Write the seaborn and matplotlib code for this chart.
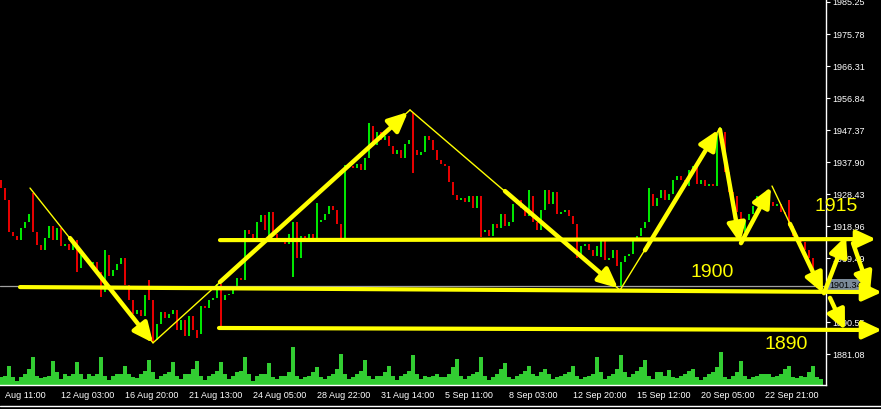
import numpy as np
import pandas as pd
import seaborn as sns
import matplotlib.pyplot as plt
from matplotlib.lines import Line2D
import matplotlib.transforms as mtransforms

# close of every bar (bar index 0..205)
closes = [
    1930.2, 1926.7, 1917.2, 1916.0, 1914.8, 1918.4, 1920.2, 1922.5, 1917.2, 1913.3,
    1911.9, 1915.4, 1919.0, 1914.8, 1918.4, 1913.1, 1913.6, 1911.9, 1914.8, 1906.5,
    1910.4, 1908.9, 1907.7, 1908.3, 1905.4, 1899.4, 1910.4, 1904.2, 1906.0, 1907.7,
    1909.5, 1901.5, 1897.1, 1892.9, 1894.1, 1892.3, 1898.6, 1897.1, 1885.2, 1890.0,
    1893.5, 1891.8, 1892.9, 1894.1, 1888.2, 1891.2, 1886.4, 1892.3, 1888.2, 1887.0,
    1895.3, 1894.7, 1897.1, 1897.7, 1901.8, 1897.1, 1898.6, 1898.9, 1901.2, 1903.6,
    1903.0, 1917.8, 1916.6, 1915.4, 1920.2, 1922.2, 1917.8, 1923.1, 1916.6, 1915.4,
    1914.2, 1913.6, 1916.6, 1920.2, 1909.5, 1916.0, 1914.8, 1916.6, 1914.2, 1920.2,
    1920.7, 1922.5, 1924.9, 1923.7, 1919.6, 1915.4, 1937.0, 1936.7, 1936.1, 1937.3,
    1935.5, 1939.1, 1948.6, 1942.9, 1946.8, 1944.4, 1945.6, 1942.6, 1940.3, 1941.5,
    1939.1, 1943.2, 1944.4, 1941.5, 1940.0, 1940.9, 1945.6, 1944.4, 1941.5, 1938.5,
    1937.3, 1936.7, 1932.0, 1928.1, 1926.7, 1927.3, 1926.1, 1927.8, 1924.3, 1927.8,
    1917.2, 1917.8, 1916.0, 1919.6, 1918.4, 1922.5, 1919.0, 1920.2, 1925.5, 1926.7,
    1924.3, 1921.9, 1927.8, 1920.2, 1917.8, 1923.7, 1929.6, 1925.5, 1929.0, 1922.5,
    1923.1, 1923.7, 1921.9, 1919.6, 1909.5, 1913.1, 1913.6, 1911.9, 1910.1, 1913.1,
    1914.8, 1908.9, 1909.5, 1911.9, 1907.1, 1908.3, 1910.1, 1910.7, 1914.8, 1916.0,
    1918.4, 1920.2, 1928.4, 1924.9, 1927.3, 1929.6, 1926.7, 1928.4, 1932.6, 1933.8,
    1932.6, 1930.8, 1935.5, 1936.7, 1931.4, 1932.6, 1930.8, 1931.4, 1930.8, 1944.4,
    1946.8, 1935.0, 1929.0, 1927.8, 1923.1, 1917.2, 1920.7, 1922.5, 1924.9, 1927.8,
    1926.1, 1925.5, 1926.1, 1924.9, 1925.5, 1923.1, 1922.5, 1919.0, 1916.0, 1915.4,
    1914.2, 1911.9, 1909.5, 1903.0, 1900.6, 1901.34,
]
first_open = 1932.6

# bars with long shadows
wick_bars = [8, 19, 25, 26, 37, 38, 49, 55, 67, 73, 79, 92, 103, 120, 132, 150,
             155, 162, 179, 180, 197, 205]
wick_lows = [np.nan, 1905.4, 1898.0, np.nan, np.nan, 1884.4, 1885.8, 1889.1, 1914.8,
             1903.9, np.nan, np.nan, 1934.7, 1915.7, np.nan, 1909.8, 1900.9, np.nan,
             np.nan, np.nan, np.nan, np.nan]
wick_highs = [1928.7, np.nan, np.nan, 1911.9, 1903.0, np.nan, np.nan, np.nan, np.nan,
              np.nan, 1925.8, 1949.5, 1952.4, 1927.6, 1929.6, np.nan, np.nan, 1930.2,
              1946.5, 1948.0, 1926.7, 1904.5]

# tick volume (hundreds)
volumes = [
    8, 9, 19, 8, 4, 8, 11, 16, 28, 9,
    7, 8, 9, 24, 13, 6, 11, 9, 11, 23,
    11, 6, 11, 9, 11, 28, 9, 5, 9, 11,
    11, 19, 11, 8, 7, 11, 14, 25, 13, 6,
    9, 11, 13, 23, 9, 6, 11, 11, 16, 24,
    9, 5, 9, 11, 14, 23, 11, 6, 9, 13,
    14, 28, 11, 4, 9, 11, 11, 22, 8, 6,
    9, 9, 13, 38, 9, 6, 8, 9, 13, 18,
    8, 6, 9, 11, 16, 31, 11, 6, 8, 11,
    14, 25, 9, 6, 9, 9, 13, 19, 9, 5,
    9, 11, 14, 30, 11, 6, 9, 8, 9, 11,
    8, 8, 11, 18, 26, 9, 6, 9, 11, 13,
    28, 9, 5, 8, 11, 16, 22, 8, 6, 9,
    11, 14, 19, 11, 9, 13, 16, 11, 6, 8,
    9, 11, 13, 19, 9, 6, 8, 9, 11, 28,
    13, 6, 9, 11, 16, 30, 13, 8, 11, 14,
    18, 25, 9, 6, 13, 13, 9, 15, 8, 7,
    9, 11, 14, 16, 8, 5, 8, 11, 13, 18,
    33, 8, 6, 9, 13, 24, 9, 6, 8, 9,
    11, 11, 11, 8, 9, 11, 16, 19, 8, 7,
    9, 8, 13, 19, 8, 6,
]

price_ticks = [1985.25, 1975.78, 1966.31, 1956.84, 1947.37, 1937.90, 1928.43,
               1918.96, 1909.49, 1890.55, 1881.08]
time_tick_bars = [15, 31, 47, 63, 79, 95, 111, 127, 143, 159, 175, 191]
time_tick_labels = ['12 Aug 03:00', '16 Aug 20:00', '21 Aug 13:00', '24 Aug 05:00',
                    '28 Aug 22:00', '31 Aug 14:00', '5 Sep 11:00', '8 Sep 03:00',
                    '12 Sep 20:00', '15 Sep 12:00', '20 Sep 05:00', '22 Sep 21:00']
first_time_label = 'Aug 11:00'
last_price = 1901.34

# hand drawn objects, (bar, price)
thin_lines = [
    ((7.25, 1930.2), (38.0, 1884.4)),
    ((38.0, 1884.4), (102.25, 1953.3)),
    ((102.25, 1953.3), (154.75, 1900.0)),
    ((154.75, 1900.0), (179.75, 1948.0)),
    ((179.75, 1948.0), (185.0, 1913.9)),
    ((192.75, 1930.8), (205.5, 1899.1)),
]
thick_arrows = [
    ((17.25, 1915.4), (38.0, 1884.4)),
    ((54.75, 1902.4), (101.75, 1952.7)),
    ((126.0, 1929.3), (154.25, 1900.6)),
    ((161.0, 1911.8), (179.25, 1947.4)),
    ((179.75, 1947.4), (184.75, 1913.9)),
    ((185.0, 1913.9), (192.5, 1930.5)),
    ((197.25, 1919.6), (205.5, 1899.1)),
    ((205.75, 1899.1), (211.25, 1916.0)),
    ((213.0, 1913.9), (217.25, 1899.4)),
    ((207.25, 1897.7), (211.0, 1888.2)),
]
level_arrows = [
    ((54.75, 1914.8), (218.75, 1915.1)),
    ((4.75, 1900.9), (220.25, 1899.4)),
    ((54.5, 1888.8), (220.25, 1888.2)),
]
level_labels = ['1915', '1900', '1890']
level_label_pos = [(203.25, 1924.6), (172.25, 1905.1), (190.75, 1883.8)]

YEL = '#ffff00'
UP = '#00ff00'
DN = '#ff0000'

sns.set_style('dark', rc={'axes.facecolor': 'black', 'figure.facecolor': 'black'})
plt.rcParams['font.family'] = ['Liberation Sans', 'DejaVu Sans']

df = pd.DataFrame({'bar': np.arange(len(closes)), 'close': closes, 'volume': volumes})
df['open'] = [first_open] + closes[:-1]
df['low'] = df[['open', 'close']].min(axis=1)
df['high'] = df[['open', 'close']].max(axis=1)
for b, lo, hi in zip(wick_bars, wick_lows, wick_highs):
    if not np.isnan(lo):
        df.loc[b, 'low'] = min(df.loc[b, 'low'], lo)
    if not np.isnan(hi):
        df.loc[b, 'high'] = max(df.loc[b, 'high'], hi)
df['color'] = np.where(df['close'] >= df['open'], UP, DN)

fig = plt.figure(figsize=(8.81, 4.09), dpi=100)
fig.patch.set_facecolor('black')
rect = [0, 24 / 409, 826 / 881, 385 / 409]
xlim = (-0.25, 206.25)

# volumes underneath
ax_v = fig.add_axes(rect, zorder=0)
sns.barplot(data=df, x='bar', y='volume', native_scale=True, color='#32cd32',
            saturation=1, width=0.85, linewidth=0, ax=ax_v)
ax_v.set_xlim(*xlim)
ax_v.set_ylim(0, 385)
ax_v.set_axis_off()

ax = fig.add_axes(rect, zorder=1)
ax.patch.set_visible(False)
ax.vlines(df['bar'], df['low'], df['high'], colors=df['color'], lw=1.3)
ax.axhline(last_price, color='#a0a0a0', lw=0.9)

for (x0, y0), (x1, y1) in thin_lines:
    ax.add_line(Line2D([x0, x1], [y0, y1], color=YEL, lw=1.0, clip_on=False, zorder=4))

arrow_kw = dict(arrowstyle='-|>,head_length=0.65,head_width=0.3', color=YEL,
                shrinkA=0, shrinkB=0, mutation_scale=18)
for (x0, y0), (x1, y1) in thick_arrows:
    ax.annotate('', xy=(x1, y1), xytext=(x0, y0), annotation_clip=False,
                arrowprops=dict(lw=3.2, **arrow_kw), zorder=5)
for (x0, y0), (x1, y1) in level_arrows:
    ax.annotate('', xy=(x1, y1), xytext=(x0, y0), annotation_clip=False,
                arrowprops=dict(lw=3.0, **arrow_kw), zorder=5)

for txt, (x, y) in zip(level_labels, level_label_pos):
    ax.text(x, y, txt, color=YEL, fontsize=14, ha='left', va='center', clip_on=False)

ax.set_xlim(*xlim)
ax.set_ylim(1871.93, 1985.84)
ax.set_yticks(price_ticks)
ax.set_yticklabels([f'{v:.2f}' for v in price_ticks])
ax.set_xticks(time_tick_bars)
ax.set_xticklabels(time_tick_labels)
for lbl in ax.get_xticklabels():
    lbl.set_ha('left')
ax.yaxis.tick_right()
ax.tick_params(axis='y', colors='white', labelsize=6.5, length=3, width=0.8, pad=1.5,
               left=False, right=True)
ax.tick_params(axis='x', colors='white', labelsize=6.5, length=3, width=0.8, pad=1.5)
ax.grid(False)
for side in ['left', 'top']:
    ax.spines[side].set_visible(False)
for side in ['right', 'bottom']:
    ax.spines[side].set_visible(True)
    ax.spines[side].set_color('white')
    ax.spines[side].set_linewidth(1.0)

# first date label at the left edge
ax.text(1.0, -0.0155, first_time_label, transform=mtransforms.blended_transform_factory(
    ax.transData, ax.transAxes), color='white', fontsize=6.5, ha='left', va='top',
    clip_on=False)

# current price box
ax.text(1.004, last_price, f'{last_price:.2f}',
        transform=mtransforms.blended_transform_factory(ax.transAxes, ax.transData),
        color='black', fontsize=6.5, ha='left', va='center', zorder=3,
        bbox=dict(boxstyle='square,pad=0.2', fc='#7b8a99', ec='none'))

fig.add_artist(Line2D([0, 1], [1 - 406 / 409] * 2, transform=fig.transFigure,
                      color='white', lw=1.0))

fig.savefig('out.png', dpi=100, facecolor='black')
